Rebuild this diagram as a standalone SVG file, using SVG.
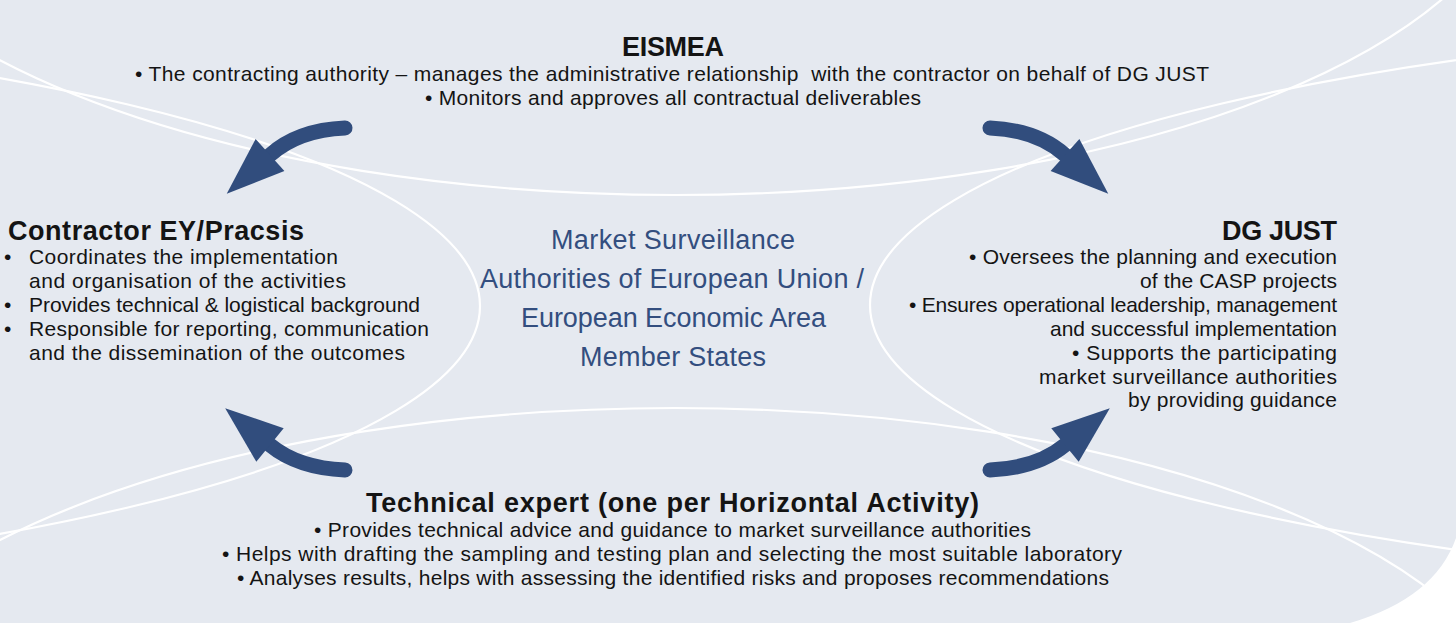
<svg xmlns="http://www.w3.org/2000/svg" width="1456" height="623" viewBox="0 0 1456 623">
  <style>
    .bg { fill: #e5e9f0; }
    .swoosh { fill: none; stroke: #ffffff; stroke-width: 2.2; }
    .t { font-family: "Liberation Sans", Arial, sans-serif; font-size: 21px; fill: #141414; }
    .h { font-weight: bold; font-size: 27px; }
    .c { fill: #334e7f; font-size: 27px; }
    .shaft { fill: none; stroke: #314d7d; stroke-width: 15; stroke-linecap: round; marker-end: url(#head); }
  </style>
  <defs>
    <marker id="head" markerUnits="userSpaceOnUse" viewBox="0 -22 60 44" markerWidth="60" markerHeight="44" refX="0" refY="0" orient="auto" overflow="visible">
      <path d="M0,-21.6 L58,0 L0,21.6 Z" fill="#314d7d"/>
    </marker>
  </defs>

  <!-- panel with rounded lower-right corner -->
  <path class="bg" d="M0,0 H1456 V538 Q1435,598 1350,623 H0 Z"/>

  <!-- decorative white swooshes -->
  <g id="swooshes">
    <ellipse class="swoosh" cx="675" cy="-149" rx="850" ry="344"/>
    <ellipse class="swoosh" cx="675" cy="745" rx="850" ry="337"/>
    <ellipse class="swoosh" cx="-722" cy="306" rx="1202" ry="285"/>
    <ellipse class="swoosh" cx="2072" cy="305" rx="1202" ry="285"/>
  </g>

  <!-- centre: member states -->
  <g id="node-msa">
    <text class="t c" x="551" y="249" textLength="244">Market Surveillance</text>
    <text class="t c" x="480" y="288" textLength="384">Authorities of European Union /</text>
    <text class="t c" x="521" y="327" textLength="305">European Economic Area</text>
    <text class="t c" x="580" y="366" textLength="186">Member States</text>
  </g>

  <!-- top: EISMEA -->
  <g id="node-eismea">
    <text class="t h" x="622" y="56" textLength="102">EISMEA</text>
    <text class="t" x="135" y="81" textLength="1074" xml:space="preserve">• The contracting authority – manages the administrative relationship  with the contractor on behalf of DG JUST</text>
    <text class="t" x="425" y="105" textLength="496">• Monitors and approves all contractual deliverables</text>
  </g>

  <!-- left: contractor -->
  <g id="node-contractor">
    <text class="t h" x="8" y="240" textLength="296">Contractor EY/Pracsis</text>
    <text class="t" x="4" y="264">•</text>
    <text class="t" x="29" y="264" textLength="309">Coordinates the implementation</text>
    <text class="t" x="29" y="288" textLength="317">and organisation of the activities</text>
    <text class="t" x="4" y="312">•</text>
    <text class="t" x="29" y="312" textLength="391">Provides technical &amp; logistical background</text>
    <text class="t" x="4" y="336">•</text>
    <text class="t" x="29" y="336" textLength="400">Responsible for reporting, communication</text>
    <text class="t" x="29" y="360" textLength="376">and the dissemination of the outcomes</text>
  </g>

  <!-- right: DG JUST -->
  <g id="node-dgjust">
    <text class="t h" x="1222" y="240" textLength="115">DG JUST</text>
    <text class="t" x="969" y="264" textLength="368">• Oversees the planning and execution</text>
    <text class="t" x="1140" y="288" textLength="197">of the CASP projects</text>
    <text class="t" x="909" y="312" textLength="428">• Ensures operational leadership, management</text>
    <text class="t" x="1050" y="336" textLength="287">and successful implementation</text>
    <text class="t" x="1072" y="360" textLength="265">• Supports the participating</text>
    <text class="t" x="1039" y="384" textLength="298">market surveillance authorities</text>
    <text class="t" x="1128" y="407" textLength="209">by providing guidance</text>
  </g>

  <!-- bottom: technical expert -->
  <g id="node-expert">
    <text class="t h" x="366" y="512" textLength="613">Technical expert (one per Horizontal Activity)</text>
    <text class="t" x="314" y="537" textLength="717">• Provides technical advice and guidance to market surveillance authorities</text>
    <text class="t" x="222" y="561" textLength="900">• Helps with drafting the sampling and testing plan and selecting the most suitable laboratory</text>
    <text class="t" x="237" y="585" textLength="872">• Analyses results, helps with assessing the identified risks and proposes recommendations</text>
  </g>

  <!-- curved arrows between the parties -->
  <g id="connectors">
    <path class="shaft" d="M345,128 Q298,130 270,155"/>
    <path class="shaft" d="M990,128 Q1037,130 1065,155"/>
    <path class="shaft" d="M345,470 Q298,468 270,445"/>
    <path class="shaft" d="M990,470 Q1037,468 1065,445"/>
  </g>
</svg>
